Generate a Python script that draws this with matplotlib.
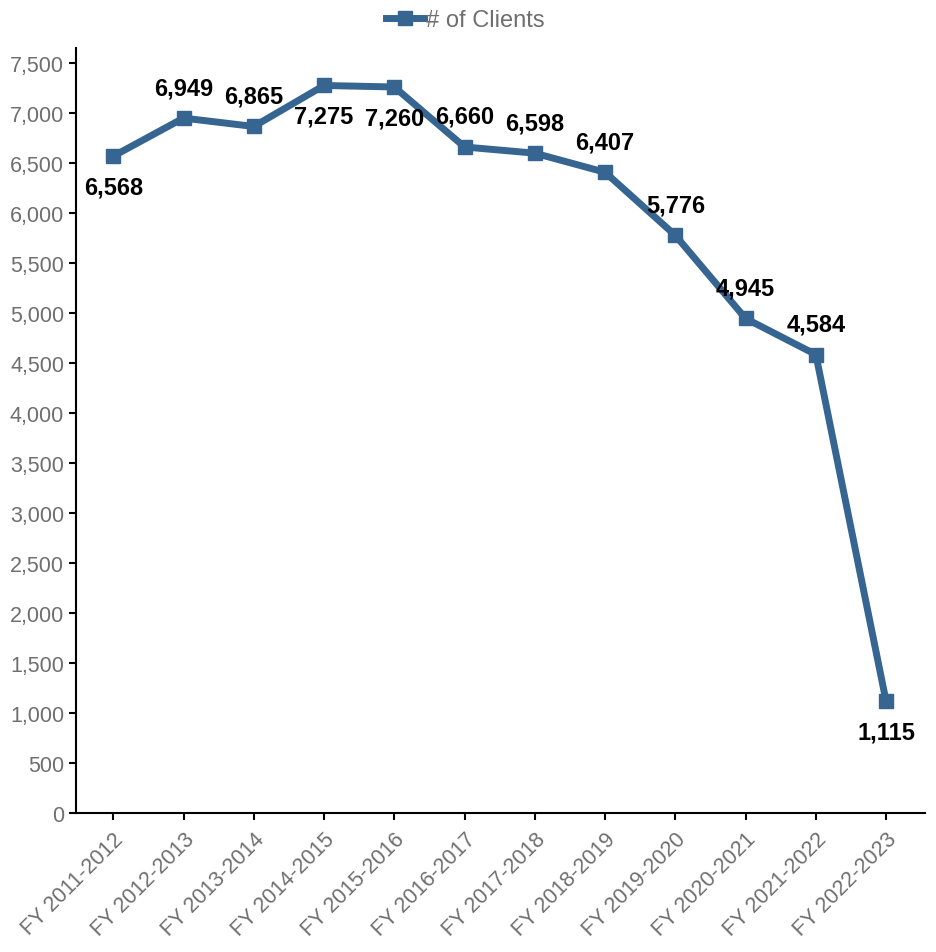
import matplotlib

matplotlib.use("Agg")
import matplotlib.pyplot as plt
from matplotlib.ticker import FuncFormatter, MultipleLocator

plt.rcParams["font.family"] = ["Liberation Sans", "DejaVu Sans"]

years = [
    "FY 2011-2012", "FY 2012-2013", "FY 2013-2014", "FY 2014-2015",
    "FY 2015-2016", "FY 2016-2017", "FY 2017-2018", "FY 2018-2019",
    "FY 2019-2020", "FY 2020-2021", "FY 2021-2022", "FY 2022-2023",
]
clients = [6568, 6949, 6865, 7275, 7260, 6660, 6598, 6407, 5776, 4945, 4584, 1115]
# label above (+1) or below (-1) the point
label_side = [-1, 1, 1, -1, -1, 1, 1, 1, 1, 1, 1, -1]

LINE = "#366591"
GRAY = "#6f6f6f"

fig = plt.figure(figsize=(9.36, 9.53), dpi=100)
ax = fig.add_axes([0.0812, 0.1459, 0.9068, 0.8027])

x = list(range(len(years)))
ax.plot(x, clients, color=LINE, linewidth=5, marker="s", markersize=10.5,
        solid_joinstyle="miter", label="# of Clients")

for xi, val, side in zip(x, clients, label_side):
    ax.annotate(f"{val:,}", (xi, val), xytext=(0, 22 * side), textcoords="offset points",
                ha="center", va="center", fontsize=17, fontweight="bold", color="black")

ax.set_xlim(-0.53, 11.55)
ax.set_ylim(0, 7650)
ax.yaxis.set_major_locator(MultipleLocator(500))
ax.yaxis.set_major_formatter(FuncFormatter(lambda v, _: f"{int(v):,}"))
ax.set_xticks(x, labels=years, rotation=45, ha="right", rotation_mode="anchor")

for side in ("top", "right"):
    ax.spines[side].set_visible(False)
for side in ("left", "bottom"):
    ax.spines[side].set_linewidth(1.5)
    ax.spines[side].set_color("black")
ax.tick_params(axis="both", direction="out", length=5, width=1.5, color="black",
               labelcolor=GRAY, labelsize=15.5)
ax.tick_params(axis="x", pad=6)

leg = fig.legend(loc="upper center", bbox_to_anchor=(0.497, 1.012), frameon=False,
                 fontsize=17, labelcolor=GRAY, handlelength=1.6, handletextpad=0.1)

fig.savefig("out.png", dpi=100)
plt.close(fig)
